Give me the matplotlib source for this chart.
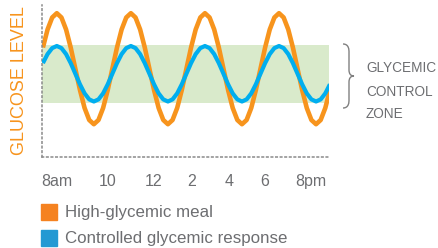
import matplotlib
matplotlib.use('Agg')
import matplotlib.pyplot as plt
from matplotlib.path import Path
from matplotlib.patches import PathPatch, Rectangle
from matplotlib.transforms import Affine2D

plt.rcParams['font.family'] = ['Liberation Sans', 'DejaVu Sans']

# --- data (arbitrary glucose units, one sample every 1/16 cycle) ---
sample = list(range(63))
high_glycemic = [109.5, 127.5, 139.5,
                 143.8, 139.5, 127.5, 109.5, 88.3, 67.0, 49.0, 37.0, 32.8, 37.0, 49.0, 67.0, 88.3, 109.5, 127.5, 139.5,
                 143.8, 139.5, 127.5, 109.5, 88.3, 67.0, 49.0, 37.0, 32.8, 37.0, 49.0, 67.0, 88.3, 109.5, 127.5, 139.5,
                 143.8, 139.5, 127.5, 109.5, 88.3, 67.0, 49.0, 37.0, 32.8, 37.0, 49.0, 67.0, 88.3, 109.5, 127.5, 139.5,
                 143.8, 139.5, 127.5, 109.5, 88.3, 67.0, 49.0, 37.0, 32.8, 37.0, 49.0, 67.0]
controlled = [93.9, 102.9, 108.9,
              111.0, 108.9, 102.9, 93.9, 83.3, 72.7, 63.6, 57.6, 55.5, 57.6, 63.6, 72.7, 83.3, 93.9, 102.9, 108.9,
              111.0, 108.9, 102.9, 93.9, 83.3, 72.7, 63.6, 57.6, 55.5, 57.6, 63.6, 72.7, 83.3, 93.9, 102.9, 108.9,
              111.0, 108.9, 102.9, 93.9, 83.3, 72.7, 63.6, 57.6, 55.5, 57.6, 63.6, 72.7, 83.3, 93.9, 102.9, 108.9,
              111.0, 108.9, 102.9, 93.9, 83.3, 72.7, 63.6, 57.6, 55.5, 57.6, 63.6, 72.7]
zone_low, zone_high = 54, 112

tick_pos = [2.9, 14.0, 23.8, 32.2, 40.2, 47.8, 57.9]
tick_labels = ['8am', '10', '12', '2', '4', '6', '8pm']

ORANGE = '#F7941D'
BLUE = '#00AEEF'
GREEN = '#D9EACB'
GRAY = '#6D6E71'
W, H = 438, 248

fig = plt.figure(figsize=(W / 100, H / 100), dpi=100)
ax = fig.add_axes([42 / W, 1 - 157 / H, 287 / W, 152 / H])

ax.axhspan(zone_low, zone_high, color=GREEN, lw=0, zorder=1)
ax.plot(sample, high_glycemic, color=ORANGE, lw=3.3, zorder=2, solid_capstyle='butt')
ax.plot(sample, controlled, color=BLUE, lw=3.0, zorder=3, solid_capstyle='butt')

ax.set_xlim(-0.2, 61.8)
ax.set_ylim(0, 152)
for s in ['top', 'right']:
    ax.spines[s].set_visible(False)
for s in ['left', 'bottom']:
    ax.spines[s].set_linestyle((0, (1, 2)))
    ax.spines[s].set_linewidth(1.1)
    ax.spines[s].set_color('#8A8A8A')
ax.set_yticks([])
ax.set_xticks(tick_pos)
ax.set_xticklabels(tick_labels, color=GRAY, fontsize=11.5)
ax.tick_params(axis='x', length=0, pad=12)
ax.set_ylabel('GLUCOSE LEVEL', color=ORANGE, fontsize=13)
ax.yaxis.set_label_coords(-14 / 287, 0.5)

# pixel transform (origin top-left)
px = Affine2D().scale(1 / W, -1 / H).translate(0, 1) + fig.transFigure

# brace for the control zone
verts = [(343, 44), (349, 44), (349, 50), (349, 52),
         (349, 70), (349, 76), (354, 76),
         (349, 76), (349, 82), (349, 100),
         (349, 102), (349, 108), (343, 108)]
codes = [Path.MOVETO, Path.CURVE4, Path.CURVE4, Path.CURVE4,
         Path.LINETO, Path.CURVE3, Path.CURVE3,
         Path.CURVE3, Path.CURVE3, Path.LINETO,
         Path.CURVE4, Path.CURVE4, Path.CURVE4]
fig.patches.append(PathPatch(Path(verts, codes), transform=px, fill=False,
                             edgecolor='#808080', lw=1.0))

for txt, y in [('GLYCEMIC', 71.5), ('CONTROL', 96.5), ('ZONE', 118.5)]:
    fig.text(366 / W, 1 - y / H, txt, color=GRAY, fontsize=9.8, va='baseline', ha='left')

# legend
for y, c, lab in [(212, '#F58220', 'High-glycemic meal'), (238, '#2399D3', 'Controlled glycemic response')]:
    fig.patches.append(Rectangle((41, y - 8), 16, 16, transform=px, color=c))
    fig.text(65 / W, 1 - y / H, lab, color=GRAY, fontsize=12.2, va='center', ha='left')

fig.savefig('out.png', dpi=100)
